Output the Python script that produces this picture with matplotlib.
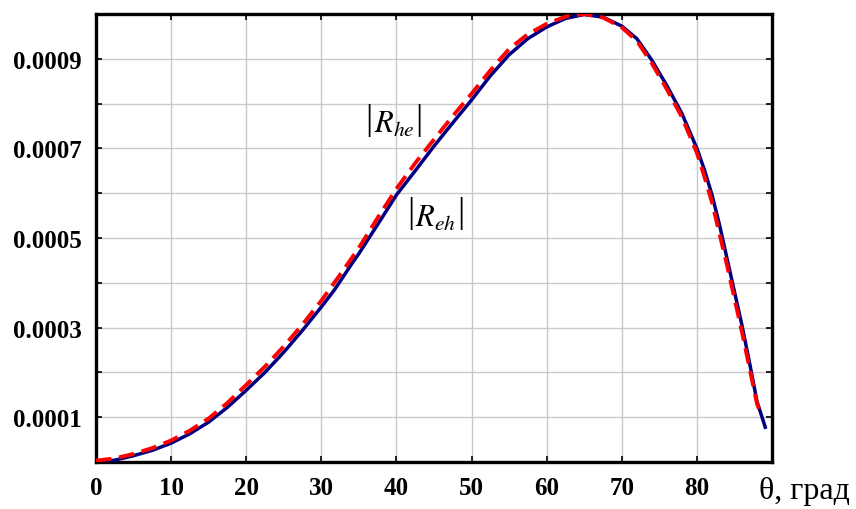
import numpy as np
import matplotlib
matplotlib.use("Agg")
import matplotlib.pyplot as plt

# angle, degrees
theta_eh = [0, 2.5, 5, 7.5, 10, 12.5, 15, 17.5, 20, 22.5, 25, 27.5, 30, 31.7,
            34.2, 35, 37.5, 40, 42.5, 45, 47.5, 50, 52.5, 55, 57.5, 60, 62.5,
            65, 67.5, 70, 72, 74, 76, 78, 80, 81, 82, 83, 84, 85, 86, 87, 88,
            89.1]
# |R_eh| (solid blue)
r_eh = [0.0, 0.000004, 0.000014, 0.000026, 0.000042, 0.000063, 0.000089,
        0.000122, 0.000160, 0.000200, 0.000245, 0.000294, 0.000346,
        0.000383, 0.000446, 0.000465, 0.000530, 0.000596, 0.000650,
        0.000705, 0.000757, 0.000808, 0.000862, 0.000909, 0.000945,
        0.000971, 0.000990, 0.000999, 0.000993, 0.000973, 0.000945,
        0.000897, 0.000840, 0.000778, 0.000700, 0.000652, 0.000597,
        0.000530, 0.000455, 0.000380, 0.000305, 0.000222, 0.000135,
        0.0000775]

theta_he = [0, 2.5, 5, 7.5, 10, 12.5, 15, 17.5, 20, 22.5, 25, 27.5, 30, 32.5,
            35, 37.5, 40, 42.5, 45, 47.5, 50, 52.5, 55, 57.5, 60, 62.5, 65,
            67.5, 70, 72, 74, 76, 78, 80, 81, 82, 83, 84, 85, 86, 87, 88, 88.6]
# |R_he| (dashed red)
r_he = [0.000003, 0.000008, 0.000018, 0.000031, 0.000048, 0.000070,
        0.000097, 0.000132, 0.000172, 0.000213, 0.000258, 0.000307,
        0.000360, 0.000418, 0.000478, 0.000545, 0.000610, 0.000667,
        0.000720, 0.000772, 0.000822, 0.000874, 0.000922, 0.000955,
        0.000978, 0.000994, 0.001000, 0.000992, 0.000970, 0.000940,
        0.000890, 0.000832, 0.000770, 0.000690, 0.000637, 0.000580,
        0.000510, 0.000440, 0.000365, 0.000290, 0.000210, 0.000130,
        0.000104]

x_ticks = [0, 10, 20, 30, 40, 50, 60, 70, 80, 90]
x_labels = ["0", "10", "20", "30", "40", "50", "60", "70", "80", ""]
y_ticks = [0.0001 * i for i in range(11)]
y_labels = ["", "0.0001", "", "0.0003", "", "0.0005", "", "0.0007", "", "0.0009", ""]

# curve labels: subscript, angle, value (baseline)
curve_labels = [("he", 39.67, 0.000737), ("eh", 45.2, 0.000528)]

plt.rcParams['mathtext.fontset'] = 'stix'

fig = plt.figure(figsize=(8.56, 5.10), dpi=100)
ax = fig.add_axes([0.1121, 0.0922, 0.7898, 0.8784])

ax.plot(theta_eh, r_eh, color="#000080", lw=2.5, zorder=3)
ax.plot(theta_he, r_he, color="#ff0000", lw=2.8, dashes=(4, 2), zorder=4)

ax.set_xlim(0, 90)
ax.set_ylim(0, 0.001)
ax.set_xticks(x_ticks)
ax.set_xticklabels(x_labels)
ax.set_yticks(y_ticks)
ax.set_yticklabels(y_labels)

for lab in ax.get_xticklabels() + ax.get_yticklabels():
    lab.set_fontfamily("Liberation Serif")
    lab.set_fontweight("bold")
    lab.set_fontsize(18)

ax.tick_params(direction="in", length=4, width=1.2, top=True, right=True,
               pad=10)
ax.grid(True, color="#c8c8c8", lw=1.0)
ax.set_axisbelow(True)
for s in ax.spines.values():
    s.set_linewidth(2.4)

ax.text(88.3, -0.063, "θ, град", transform=ax.get_xaxis_transform(),
        fontfamily="Liberation Serif", fontsize=23, ha="left", va="center")

# |R_xx| labels with tall bars
for sub, xt, yt in curve_labels:
    ax.text(xt, yt, r"$R_{%s}$" % sub, fontsize=22, ha="center",
            va="baseline", zorder=5)
    for dx in (-18, 18):
        ax.annotate("|", xy=(xt, yt), xytext=(dx, 3.0),
                    textcoords="offset points", fontsize=26,
                    fontfamily="Liberation Serif", ha="center",
                    va="baseline", zorder=5)

plt.savefig("out.png", dpi=100)
